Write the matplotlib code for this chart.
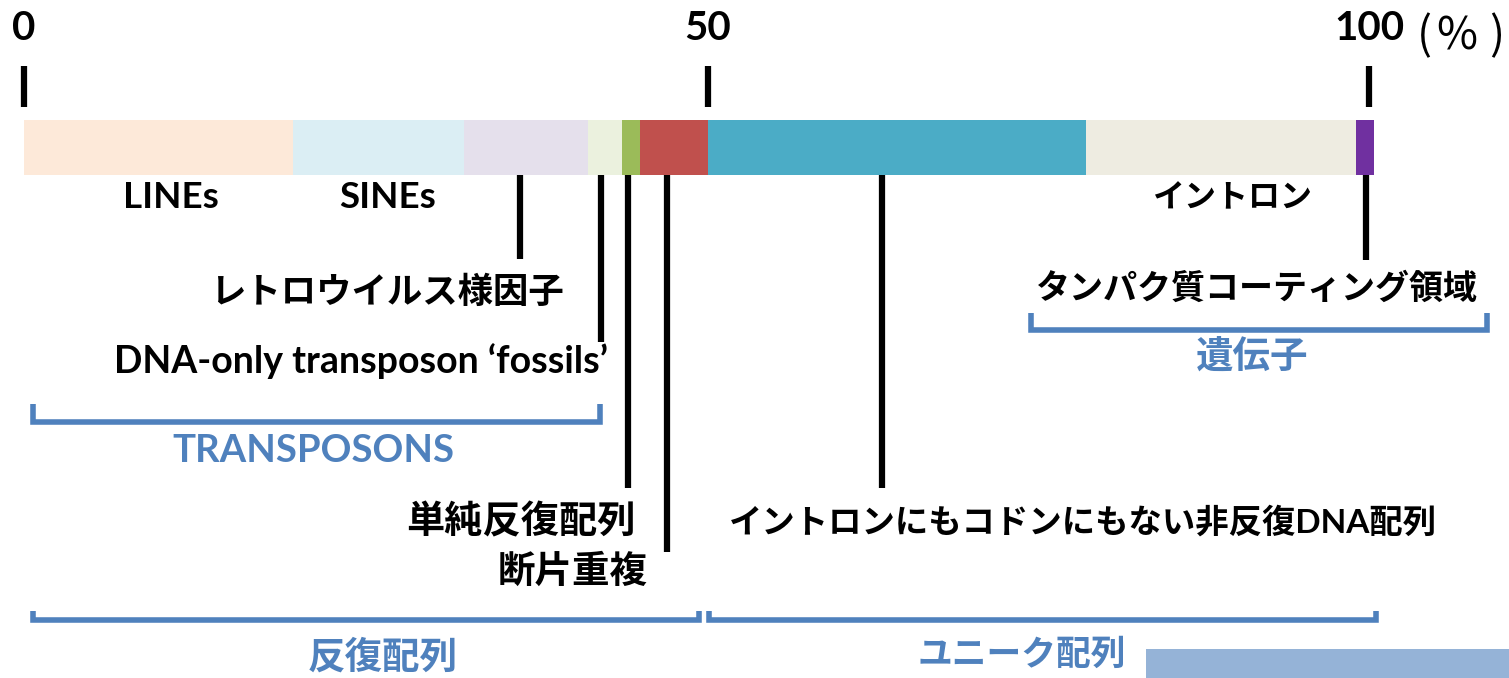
import matplotlib
matplotlib.use("Agg")
import matplotlib.pyplot as plt
import numpy as np
from matplotlib.patches import Rectangle

plt.rcParams['font.family'] = ['Lato', 'Noto Sans CJK JP']

# genome composition, percent of the whole
labels = ["LINEs", "SINEs", "レトロウイルス様因子", "DNA-only transposon ‘fossils’",
          "単純反復配列", "断片重複", "イントロンにもコドンにもない非反復DNA配列",
          "イントロン", "タンパク質コーティング領域"]
percent = [19.7, 12.5, 9.0, 2.5, 1.3, 5.0, 28.6, 20.4, 1.4]
colors = ["#FDE9D9", "#DBEEF4", "#E5E0EC", "#EBF1DE", "#9BBB59", "#C0504D",
          "#4BACC6", "#EEECE1", "#7030A0"]
ticks = [0, 50, 100]
tick_labels = ["0", "50", "100"]

W, H = 1509, 678
X0, PX = 24, 13.68          # pixel of 0 %, pixels per percent (left half)
K = 13.22 / 13.68           # right half is drawn a little tighter


def fwd(x):
    x = np.asarray(x, dtype=float)
    return np.where(x <= 50, x, 50 + (x - 50) * K)


def inv(y):
    y = np.asarray(y, dtype=float)
    return np.where(y <= 50, y, 50 + (y - 50) / K)


fig = plt.figure(figsize=(W / 100, H / 100), dpi=100)
ax = fig.add_axes([0, 0, 1, 1])
ax.set_xscale('function', functions=(fwd, inv))
ax.set_xlim(float(inv(-X0 / PX)), float(inv((W - X0) / PX)))
ax.set_ylim(H, 0)
ax.axis('off')

# overlay in pixel units for brackets and label placement
lay = fig.add_axes([0, 0, 1, 1], facecolor='none')
lay.set_xlim(0, W)
lay.set_ylim(H, 0)
lay.axis('off')

left = np.concatenate([[0], np.cumsum(percent)[:-1]])
ax.barh(147.5, percent, left=left, height=55, color=colors, linewidth=0)

# scale ticks
ax.vlines(ticks, 66, 107, color='black', linewidth=4.5)
for t, s in zip(ticks, tick_labels):
    ax.text(t, 29, s, ha='center', va='center', fontsize=29, fontweight='bold')
# unit "(%)" set loosely, one glyph at a time
for gx, g in zip([1424, 1457, 1497], ["(", "%", ")"]):
    lay.text(gx, 36, g, ha='center', va='center', fontsize=32,
             family='Noto Sans CJK JP')

# leader lines: segment index -> (where along the segment, bottom end)
leaders = {2: (0.45, 259), 3: (0.39, 342), 4: (0.36, 488),
           5: (0.40, 552), 6: (0.46, 488), 8: (0.56, 260)}
for i, (frac, yb) in leaders.items():
    ax.vlines(left[i] + frac * percent[i], 175, yb, color='black', linewidth=4.5)

black = dict(color='black', fontweight='bold', va='center')
lay.text(171, 198, labels[0], ha='center', fontsize=26.5, **black)
lay.text(388, 198, labels[1], ha='center', fontsize=26.5, **black)
lay.text(1233, 198, labels[7], ha='center', fontsize=23, **black)
lay.text(387, 292, labels[2], ha='center', fontsize=25.5, **black)
lay.text(608, 361, labels[3], ha='right', fontsize=27, **black)
lay.text(1257, 289, labels[8], ha='center', fontsize=24.5, **black)
lay.text(636, 521, labels[4], ha='right', fontsize=27.5, **black)
lay.text(648, 571, labels[5], ha='right', fontsize=27, **black)
lay.text(1083, 522, labels[6], ha='center', fontsize=24, **black)

# group brackets
blue = "#4F81BD"
groups = [("TRANSPOSONS", 33, 600, 404, 422, 313, 451, 27.5),
          ("反復配列", 33, 699, 611, 620, 383, 657, 27),
          ("ユニーク配列", 709, 1376, 611, 620, 1022, 655, 25),
          ("遺伝子", 1031, 1487, 313, 330, 1252, 356, 27)]
for name, x1, x2, yt, yb, tx, ty, fs in groups:
    lay.plot([x1, x1, x2, x2], [yt, yb, yb, yt], color=blue, linewidth=4.0,
             solid_joinstyle='miter', solid_capstyle='butt')
    lay.text(tx, ty, name, ha='center', va='center', color=blue,
             fontsize=fs, fontweight='bold')

lay.add_patch(Rectangle((1146, 649), W - 1146, H - 649, color="#95B3D7", linewidth=0))

fig.savefig("out.png", dpi=100)
